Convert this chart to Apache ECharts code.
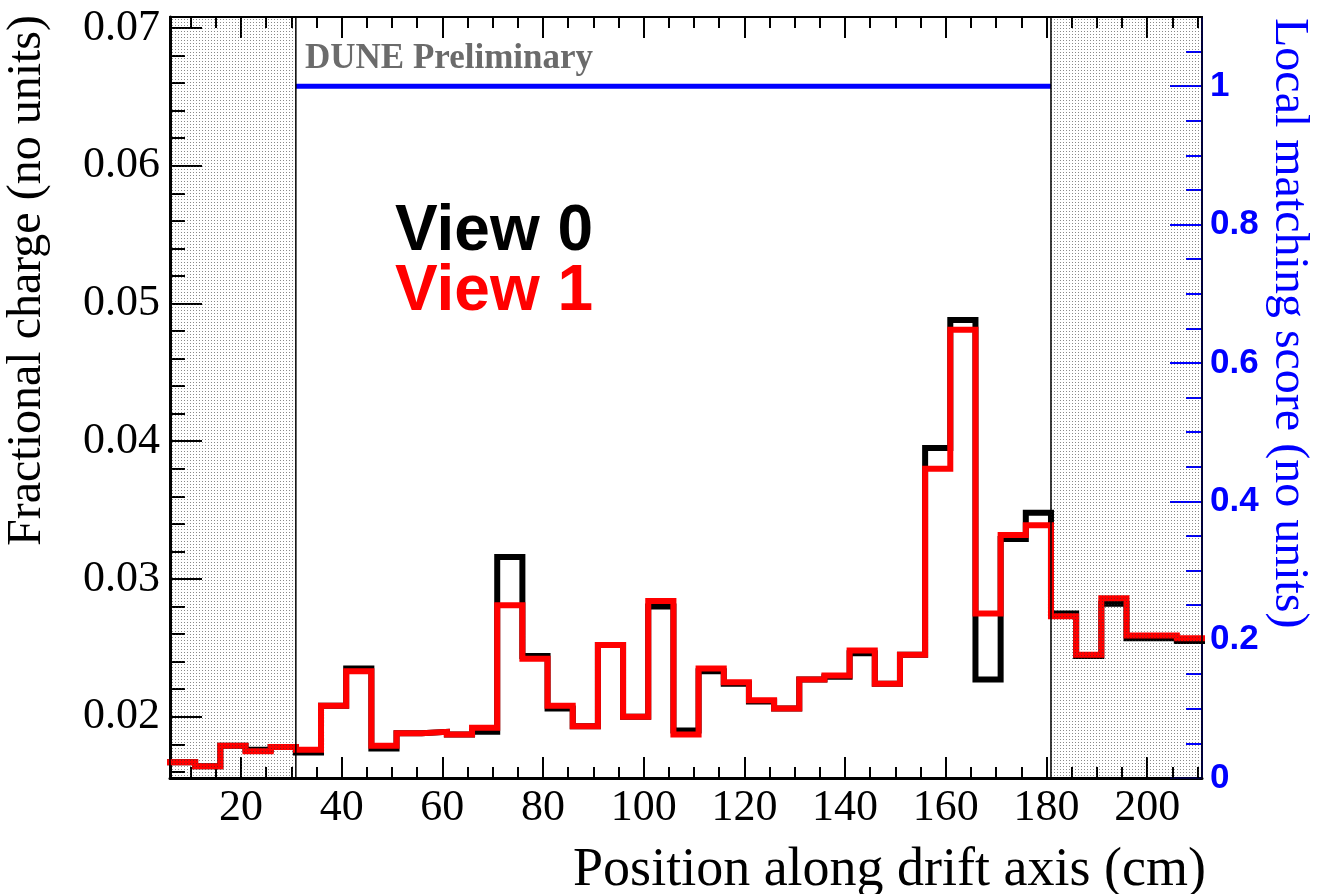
<!DOCTYPE html>
<html><head><meta charset="utf-8">
<script src="https://cdn.jsdelivr.net/npm/echarts@6/dist/echarts.min.js"></script>
<style>html,body{margin:0;padding:0;background:#fff}#c{width:1323px;height:894px}</style>
</head><body><div id="c"></div>
<script>
// ---- data ----
const binLowEdges = [5.9,10.9,15.9,20.9,25.9,30.9,35.9,40.9,45.9,50.9,55.9,60.9,65.9,70.9,75.9,80.9,85.9,90.9,95.9,100.9,105.9,110.9,115.9,120.9,125.9,130.9,135.9,140.9,145.9,150.9,155.9,160.9,165.9,170.9,175.9,180.9,185.9,190.9,195.9,200.9,205.9];
const xMin = 5.9;
const xMax = 210.9;
const view0 = [0.0167,0.0164,0.0179,0.0176,0.0178,0.0174,0.0208,0.0235,0.0177,0.0188,0.0189,0.0187,0.0189,0.0316,0.0244,0.0206,0.0193,0.0252,0.0200,0.0280,0.0190,0.0233,0.0224,0.0211,0.0206,0.0227,0.0229,0.0246,0.0224,0.0245,0.0395,0.0488,0.0227,0.0329,0.0348,0.0275,0.0244,0.0282,0.0257,0.0257,0.0255];
const view1 = [0.0167,0.0164,0.0179,0.0175,0.0178,0.0176,0.0208,0.0233,0.0179,0.0188,0.0189,0.0187,0.0192,0.0281,0.0242,0.0208,0.0193,0.0252,0.0200,0.0284,0.0187,0.0235,0.0225,0.0212,0.0206,0.0227,0.0230,0.0248,0.0224,0.0245,0.0380,0.0481,0.0275,0.0332,0.0339,0.0273,0.0245,0.0286,0.0259,0.0259,0.0257];
const matchRange = [30.9, 180.9];
const matchScore = 1;
const leftShade = [5.9, 30.9];
const rightShade = [180.9, 210.9];
const yMin = 0.01555, yMax = 0.0708;
const y2Min = 0, y2Max = 1.1;
const xMajorTicks = [20,40,60,80,100,120,140,160,180,200];
const xMinorTicks = [10,15,25,30,35,45,50,55,65,70,75,85,90,95,105,110,115,125,130,135,145,150,155,165,170,175,185,190,195,205,210];
const yMajorTicks = [0.02,0.03,0.04,0.05,0.06,0.07];
const yMinorTicks = [0.016,0.018,0.022,0.024,0.026,0.028,0.032,0.034,0.036,0.038,0.042,0.044,0.046,0.048,0.052,0.054,0.056,0.058,0.062,0.064,0.066,0.068,0.07];
const y2MajorTicks = [0,0.2,0.4,0.6,0.8,1];
const y2MinorTicks = [0.05,0.1,0.15,0.25,0.3,0.35,0.45,0.5,0.55,0.65,0.7,0.75,0.85,0.9,0.95,1.05];

// ---- helpers ----
function stepData(vals){
  const d = binLowEdges.map((x,i)=>[x, vals[i]]);
  d.push([xMax, vals[vals.length-1]]);
  return d;
}
const pc = document.createElement('canvas'); pc.width = 3; pc.height = 3;
const pg = pc.getContext('2d'); pg.fillStyle = 'rgba(40,40,40,0.55)'; pg.fillRect(1,1,1,1);

const SERIF = '"Liberation Serif", "Times New Roman", serif';
const SANS = '"Liberation Sans", Arial, sans-serif';

function xAx(pos, len, vals, labels, lineW){
  return {type:'value', min:xMin, max:xMax, position:pos,
    splitLine:{show:false},
    axisLine:{show: lineW>0, onZero:false, lineStyle:{color:'#000', width:lineW||1}},
    axisTick:{show:true, inside:true, length:len, customValues:vals, lineStyle:{color:'#000', width:2}},
    axisLabel:labels ? {show:true, customValues:vals, fontFamily:SERIF, fontSize:44, color:'#000', margin:8} : {show:false}
  };
}
function yAx(pos, min, max, len, vals, color, lineW, label){
  return {type:'value', min:min, max:max, position:pos,
    splitLine:{show:false},
    axisLine:{show: lineW>0, onZero:false, lineStyle:{color:color, width:lineW||1}},
    axisTick:{show:true, inside:true, length:len, customValues:vals, lineStyle:{color:color, width:2}},
    axisLabel:label ? Object.assign({show:true, customValues:vals}, label) : {show:false}
  };
}

const chart = echarts.init(document.getElementById('c'), null, {renderer:'canvas'});
chart.setOption({
  animation:false,
  backgroundColor:'#fff',
  grid:{left:170, right:121, top:17, bottom:116, containLabel:false},
  xAxis:[
    xAx('bottom', 21, xMajorTicks, true, 3),
    xAx('bottom', 11, xMinorTicks, false, 0),
    xAx('top', 21, xMajorTicks, false, 2),
    xAx('top', 11, xMinorTicks, false, 0)
  ],
  yAxis:[
    yAx('left', yMin, yMax, 32, yMajorTicks, '#000', 3,
      {fontFamily:SERIF, fontSize:44, color:'#000', margin:10, formatter:v=>v.toFixed(2)}),
    yAx('left', yMin, yMax, 15, yMinorTicks, '#000', 0, null),
    yAx('right', y2Min, y2Max, 32, y2MajorTicks, '#0000ff', 2,
      {fontFamily:SANS, fontWeight:'bold', fontSize:35, color:'#0000ff', margin:8, formatter:v=>String(v)}),
    yAx('right', y2Min, y2Max, 16, y2MinorTicks, '#0000ff', 0, null)
  ],
  series:[
    {name:'View 0', type:'line', step:'end', data:stepData(view0), xAxisIndex:0, yAxisIndex:0,
     symbol:'none', z:2, lineStyle:{color:'#000', width:6, join:'miter', cap:'square'}},
    {name:'View 1', type:'line', step:'end', data:stepData(view1), xAxisIndex:0, yAxisIndex:0,
     symbol:'none', z:3, lineStyle:{color:'#ff0000', width:6, join:'miter', cap:'square'}},
    {name:'Local matching score', type:'line', data:[[matchRange[0], matchScore],[matchRange[1], matchScore]],
     xAxisIndex:0, yAxisIndex:2, symbol:'none', z:4, lineStyle:{color:'#0000ff', width:5}},
    {name:'shade', type:'line', data:[], xAxisIndex:0, yAxisIndex:0, z:6,
     markArea:{z:10, silent:true,
       itemStyle:{color:{image:pc, repeat:'repeat'}, borderColor:'#000', borderWidth:1.5},
       data:[[{xAxis:leftShade[0]},{xAxis:leftShade[1]}],[{xAxis:rightShade[0]},{xAxis:rightShade[1]}]]}}
  ],
  graphic:[
    {type:'text', x:305, y:59, z:20, style:{text:'DUNE Preliminary', font:'bold 35px '+SERIF, fill:'#6b6b6b', align:'left', verticalAlign:'middle'}},
    {type:'text', x:395, y:232, z:20, style:{text:'View 0', font:'bold 64px '+SANS, fill:'#000', align:'left', verticalAlign:'middle'}},
    {type:'text', x:395, y:292, z:20, style:{text:'View 1', font:'bold 64px '+SANS, fill:'#ff0000', align:'left', verticalAlign:'middle'}},
    {type:'text', x:1206, y:871, z:20, style:{text:'Position along drift axis (cm)', font:'54px '+SERIF, fill:'#000', align:'right', verticalAlign:'middle'}},
    {type:'text', x:27, y:15, rotation:Math.PI/2, z:20, style:{text:'Fractional charge (no units)', font:'48px '+SERIF, fill:'#000', align:'right', verticalAlign:'middle'}},
    {type:'text', x:1289, y:18, rotation:-Math.PI/2, z:20, style:{text:'Local matching score (no units)', font:'48px '+SERIF, fill:'#0000ff', align:'left', verticalAlign:'middle'}}
  ]
});
</script></body></html>
